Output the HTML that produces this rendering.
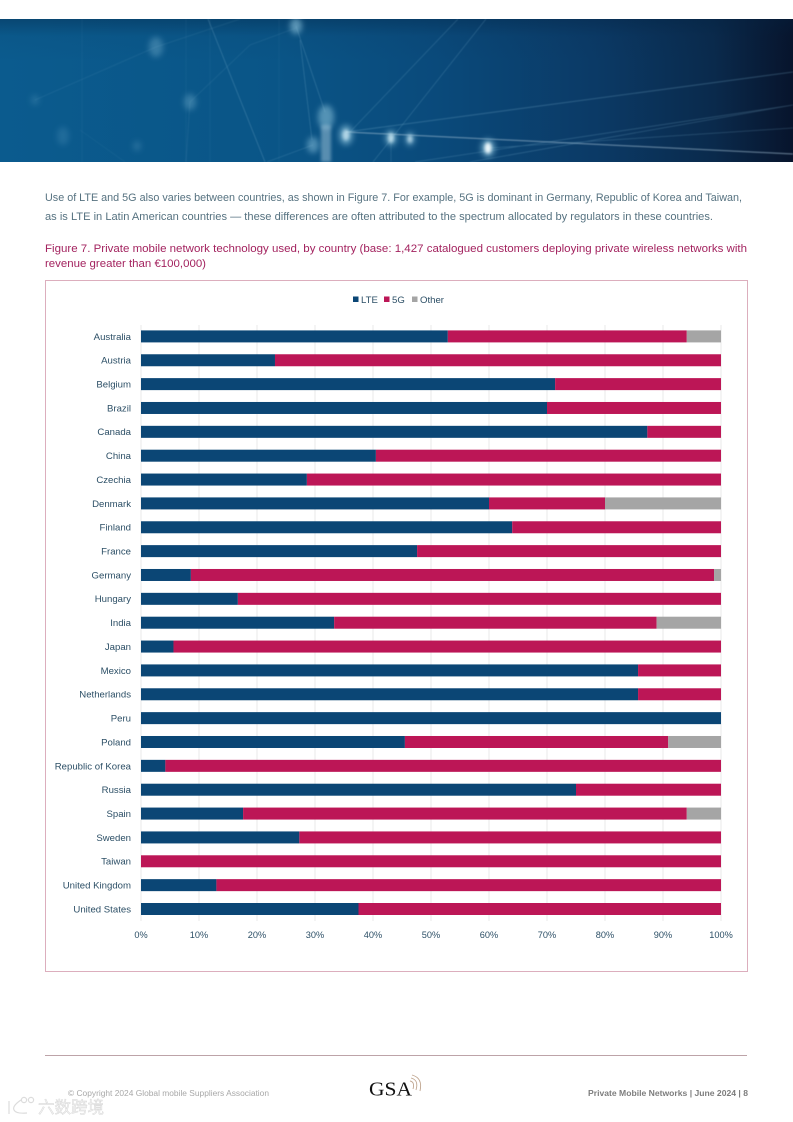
<!DOCTYPE html>
<html lang="en">
<head>
<meta charset="utf-8">
<title>Private mobile network technology used, by country</title>
<style>
html,body{margin:0;padding:0;background:#fff;}
body{width:793px;height:1122px;overflow:hidden;}
svg{display:block;font-family:"Liberation Sans","Noto Sans CJK SC",sans-serif;}
</style>
</head>
<body>
<svg id="page" xmlns="http://www.w3.org/2000/svg" width="793" height="1122" viewBox="0 0 793 1122">
  <defs>
    <linearGradient id="bandGrad" x1="0" y1="0" x2="1" y2="0">
      <stop offset="0" stop-color="#0b5b8e"/>
      <stop offset="0.35" stop-color="#0a5587"/>
      <stop offset="0.55" stop-color="#0a4a7b"/>
      <stop offset="0.75" stop-color="#0b3a66"/>
      <stop offset="0.9" stop-color="#0a2a4c"/>
      <stop offset="1" stop-color="#07142c"/>
    </linearGradient>
    <linearGradient id="bandTop" x1="0" y1="0" x2="0" y2="1">
      <stop offset="0" stop-color="#04213f" stop-opacity="0.35"/>
      <stop offset="0.12" stop-color="#04213f" stop-opacity="0.05"/>
      <stop offset="0.3" stop-color="#04213f" stop-opacity="0"/>
    </linearGradient>
    <clipPath id="bandClip"><rect x="0" y="19" width="793" height="143"/></clipPath>
    <filter id="blur3" x="-150%" y="-150%" width="400%" height="400%"><feGaussianBlur stdDeviation="2.8"/></filter>
    <filter id="blur2" x="-100%" y="-100%" width="300%" height="300%"><feGaussianBlur stdDeviation="1.6"/></filter>
    <filter id="blur1" x="-20%" y="-20%" width="140%" height="140%"><feGaussianBlur stdDeviation="0.5"/></filter>
  </defs>

  <g clip-path="url(#bandClip)">
    <rect x="0" y="19" width="793" height="143" fill="url(#bandGrad)"/>
    <rect x="0" y="19" width="793" height="143" fill="url(#bandTop)"/>
    <g stroke="#7fb4d0" fill="none" filter="url(#blur1)">
      <path d="M82 19V162M186 19V162M210 19V162M279 19V162" stroke-opacity="0.1" stroke-width="0.7"/>
      <path d="M208 19L265 162" stroke-opacity="0.32" stroke-width="0.8"/>
      <path d="M296 26L325 112M300 40L312 140" stroke-opacity="0.32" stroke-width="0.7"/>
      <path d="M35 100L156 47L240 19M190 102L250 45L296 28M190 102L186 162" stroke-opacity="0.14" stroke-width="0.8"/>
      <path d="M267 162L313 145" stroke-opacity="0.22" stroke-width="0.7"/>
      <path d="M350 132L458 19M373 162L486 19" stroke-opacity="0.28" stroke-width="0.7"/>
      <path d="M346 132L793 72" stroke-opacity="0.28" stroke-width="1.1"/>
      <path d="M346 132L793 154" stroke="#a8c4d8" stroke-opacity="0.5" stroke-width="1.3"/>
      <path d="M415 162L793 105M470 162L793 105M490 148L793 128" stroke-opacity="0.28" stroke-width="0.8"/>
      <path d="M391 138V162" stroke-opacity="0.25" stroke-width="0.7"/>
      <path d="M80 130L125 162" stroke-opacity="0.1" stroke-width="0.7"/>
    </g>
    <g fill="#8fc6df" filter="url(#blur3)">
      <ellipse cx="296" cy="26" rx="6" ry="8" fill-opacity="0.6"/>
      <ellipse cx="156" cy="47" rx="7" ry="10" fill-opacity="0.32"/>
      <ellipse cx="190" cy="102" rx="6" ry="8" fill-opacity="0.32"/>
      <ellipse cx="35" cy="100" rx="4" ry="5" fill-opacity="0.18"/>
      <ellipse cx="63" cy="136" rx="6" ry="9" fill-opacity="0.16"/>
      <ellipse cx="137" cy="146" rx="4" ry="5" fill-opacity="0.2"/>
      <ellipse cx="326" cy="117" rx="8" ry="12" fill-opacity="0.55"/>
      <ellipse cx="313" cy="145" rx="6" ry="8" fill-opacity="0.5"/>
      <ellipse cx="346" cy="135" rx="7" ry="10" fill-opacity="0.6"/>
      <ellipse cx="391" cy="138" rx="6" ry="8" fill-opacity="0.55"/>
      <ellipse cx="410" cy="139" rx="5" ry="7" fill-opacity="0.5"/>
      <ellipse cx="488" cy="148" rx="7" ry="9" fill-opacity="0.65"/>
    </g>
    <g filter="url(#blur2)">
      <rect x="321" y="125" width="10" height="37" fill="#b8d8e6" fill-opacity="0.45"/>
      <ellipse cx="346" cy="135" rx="3.5" ry="5.5" fill="#d6f0fa" fill-opacity="0.7"/>
      <ellipse cx="391" cy="138" rx="3" ry="5" fill="#d6f0fa" fill-opacity="0.75"/>
      <ellipse cx="410" cy="139" rx="2.5" ry="4" fill="#d6f0fa" fill-opacity="0.7"/>
      <ellipse cx="488" cy="148" rx="3.5" ry="5.5" fill="#f2fcff" fill-opacity="0.95"/>
    </g>
  </g>

  <g fill="#567280" font-size="10.6">
    <text x="45" y="201" textLength="697" lengthAdjust="spacingAndGlyphs">Use of LTE and 5G also varies between countries, as shown in Figure 7. For example, 5G is dominant in Germany, Republic of Korea and Taiwan,</text>
    <text x="45" y="220" textLength="668" lengthAdjust="spacingAndGlyphs">as is LTE in Latin American countries — these differences are often attributed to the spectrum allocated by regulators in these countries.</text>
  </g>

  <g fill="#a3235f" font-size="10.8">
    <text x="45" y="252" textLength="702" lengthAdjust="spacingAndGlyphs">Figure 7. Private mobile network technology used, by country (base: 1,427 catalogued customers deploying private wireless networks with</text>
    <text x="45" y="267" textLength="161" lengthAdjust="spacingAndGlyphs">revenue greater than €100,000)</text>
  </g>

  <rect x="45.5" y="280.5" width="702" height="691" fill="#fff" stroke="#dcaebd" stroke-width="1"/>

  <g font-size="9.6" fill="#2c4f66">
    <rect x="353" y="296.5" width="5.5" height="5.5" fill="#0b4675"/>
    <text x="361" y="303">LTE</text>
    <rect x="384" y="296.5" width="5.5" height="5.5" fill="#bc1656"/>
    <text x="392" y="303">5G</text>
    <rect x="412" y="296.5" width="5.5" height="5.5" fill="#a5a5a5"/>
    <text x="420" y="303">Other</text>
  </g>

  <g id="grid"></g>
  <g id="bars"></g>
  <g id="ylabels" font-size="9.6" fill="#2c4f66" text-anchor="end"></g>
  <g id="xlabels" font-size="9.2" fill="#2c4f66" text-anchor="middle"></g>

  <line x1="45" y1="1055.5" x2="747" y2="1055.5" stroke="#bda3a8" stroke-width="1"/>
  <text x="68" y="1096" font-size="8.6" fill="#a8a8a8" textLength="201" lengthAdjust="spacingAndGlyphs">© Copyright 2024 Global mobile Suppliers Association</text>
  <g>
    <text x="369" y="1095.5" font-family="'Liberation Serif',serif" font-size="20" fill="#111" textLength="43" lengthAdjust="spacingAndGlyphs">GSA</text>
    <path d="M410 1081Q415 1082 413 1089M411 1078Q419 1080 416 1090M412 1075Q423 1078 420 1091" fill="none" stroke="#c0a690" stroke-width="0.9"/>
  </g>
  <text x="588" y="1096" font-size="8.6" font-weight="bold" fill="#7d7d7d" textLength="160" lengthAdjust="spacingAndGlyphs">Private Mobile Networks | June 2024 | 8</text>

  <g fill="none" stroke="#dcdcdc" stroke-width="1.2">
    <path d="M9 1101V1114M21 1100Q12 1106 14 1110Q16 1114 27 1113"/>
    <circle cx="24" cy="1100" r="2.6"/>
    <circle cx="31" cy="1100" r="2.6"/>
    <text x="38" y="1113" font-size="16.5" fill="#f2f2f2" stroke="#d4d4d4" stroke-width="0.4">六数跨境</text>
  </g>
</svg>
<script>
const categories = ["Australia","Austria","Belgium","Brazil","Canada","China","Czechia","Denmark","Finland","France","Germany","Hungary","India","Japan","Mexico","Netherlands","Peru","Poland","Republic of Korea","Russia","Spain","Sweden","Taiwan","United Kingdom","United States"];
const lteValues = [52.9,23.1,71.4,70,87.3,40.5,28.6,60,64,47.6,8.6,16.7,33.3,5.6,85.7,85.7,100,45.5,4.2,75,17.6,27.3,0,13,37.5];
const fiveGValues = [41.2,76.9,28.6,30,12.7,59.5,71.4,20,36,52.4,90.2,83.3,55.6,94.4,14.3,14.3,0,45.4,95.8,25,76.5,72.7,100,87,62.5];
const otherValues = [5.9,0,0,0,0,0,0,20,0,0,1.2,0,11.1,0,0,0,0,9.1,0,0,5.9,0,0,0,0];
const xTicks = [0,10,20,30,40,50,60,70,80,90,100];

const SVGNS = "http://www.w3.org/2000/svg";
const plotLeft = 141, plotRight = 721, firstRow = 336.4, lastRow = 909, barHeight = 12, gridTop = 325, gridBottom = 921;

function xScale(v) { return plotLeft + (plotRight - plotLeft) * v / 100; }
function yScale(i) { return firstRow + (lastRow - firstRow) * i / (categories.length - 1); }
function slug(s) { return s.toLowerCase().replace(/[^a-z0-9]+/g, '-'); }

const gridGroup = document.getElementById('grid');
const barsGroup = document.getElementById('bars');
const yGroup = document.getElementById('ylabels');
const xGroup = document.getElementById('xlabels');

xTicks.forEach(function (t) {
  const line = document.createElementNS(SVGNS, 'line');
  
  
  line.setAttribute('x1', xScale(t));
  line.setAttribute('x2', xScale(t));
  line.setAttribute('y1', gridTop);
  line.setAttribute('y2', gridBottom);
  line.setAttribute('stroke', '#e8e8ea');
  line.setAttribute('stroke-width', '1');
  gridGroup.appendChild(line);

  const label = document.createElementNS(SVGNS, 'text');
  
  
  label.setAttribute('x', xScale(t));
  label.setAttribute('y', 938);
  label.textContent = t + '%';
  xGroup.appendChild(label);
});

const seriesList = [
  { key: 'lte', values: lteValues, color: '#0b4675' },
  { key: '5g', values: fiveGValues, color: '#bc1656' },
  { key: 'other', values: otherValues, color: '#a5a5a5' }
];

categories.forEach(function (name, i) {
  const label = document.createElementNS(SVGNS, 'text');
  
  
  label.setAttribute('x', 131);
  label.setAttribute('y', yScale(i) + 3.4);
  label.textContent = name;
  yGroup.appendChild(label);

  let cumulative = 0;
  seriesList.forEach(function (s) {
    const v = s.values[i];
    if (v > 0) {
      const rect = document.createElementNS(SVGNS, 'rect');
      
      
      rect.setAttribute('x', xScale(cumulative));
      rect.setAttribute('y', yScale(i) - barHeight / 2);
      rect.setAttribute('width', xScale(cumulative + v) - xScale(cumulative));
      rect.setAttribute('height', barHeight);
      rect.setAttribute('fill', s.color);
      barsGroup.appendChild(rect);
    }
    cumulative += v;
  });
});
</script>
</body>
</html>
